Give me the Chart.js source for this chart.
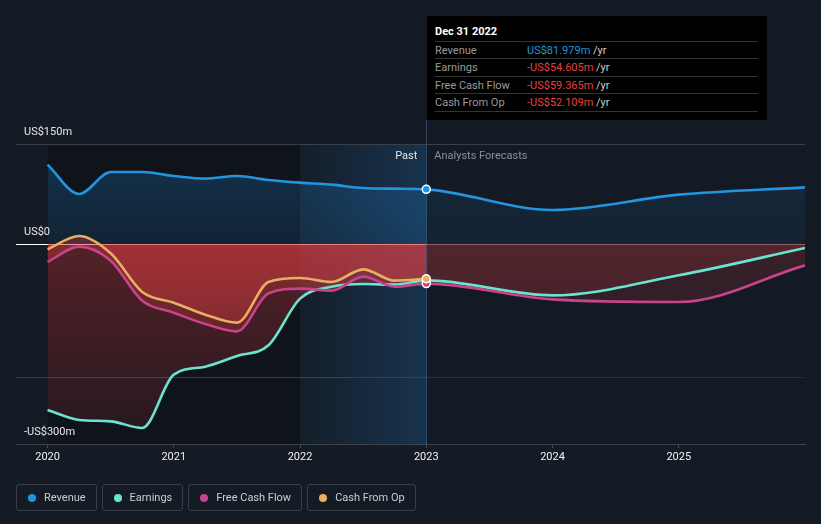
<!DOCTYPE html>
<html>
<head>
<meta charset="utf-8">
<script src="https://cdn.jsdelivr.net/npm/chart.js@4.4.1/dist/chart.umd.min.js"></script>
<style>
    html, body { margin: 0; padding: 0; background: #151b24; }
    #wrap { position: relative; width: 821px; height: 524px; font-family: Roboto, "Noto Sans", sans-serif; }
    #chart { position: absolute; left: 0; top: 0; }
    .tip { position: absolute; left: 427px; top: 16px; width: 340px; height: 104px; background: #000; font-size: 11px; }
    .tip .title { position: absolute; left: 8px; top: 9px; color: #fff; font-weight: bold; }
    .tip .row { position: absolute; left: 8px; right: 9px; height: 17px; line-height: 17px; border-top: 1px solid #333; color: #9a9a9a; }
    .tip .row.last { border-bottom: 1px solid #333; }
    .tip .val { position: absolute; left: 92px; top: 0; color: #ccc; }
    .legend { position: absolute; left: 16px; top: 484px; display: flex; gap: 5px; }
    .legend .item { box-sizing: border-box; height: 27px; border: 1px solid #3a3f48; border-radius: 3px; display: flex; align-items: center; padding: 0 10px 0 11px; color: #c9cdd3; font-size: 11px; }
    .legend .dot { width: 8px; height: 8px; border-radius: 50%; margin-right: 8px; }
</style>
</head>
<body>
<div id="wrap">
    <canvas id="chart" width="821" height="524"></canvas>
    <div class="tip">
        <div class="title">Dec 31 2022</div>
        <div class="row" style="top:25px">Revenue<span class="val"><span style="color:#2394df">US$81.979m</span> /yr</span></div>
        <div class="row" style="top:42px">Earnings<span class="val"><span style="color:#e8403f">-US$54.605m</span> /yr</span></div>
        <div class="row" style="top:60px">Free Cash Flow<span class="val"><span style="color:#e8403f">-US$59.365m</span> /yr</span></div>
        <div class="row last" style="top:77px">Cash From Op<span class="val"><span style="color:#e8403f">-US$52.109m</span> /yr</span></div>
    </div>
    <div class="legend">
        <div class="item"><span class="dot" style="background:#2394df"></span>Revenue</div>
        <div class="item"><span class="dot" style="background:#6ce3d0"></span>Earnings</div>
        <div class="item"><span class="dot" style="background:#c8438b"></span>Free Cash Flow</div>
        <div class="item"><span class="dot" style="background:#e9ae62"></span>Cash From Op</div>
    </div>
</div>
<script>
// quarterly history (trailing twelve months), then analyst forecasts per year
const pastYears = [2020, 2020.25, 2020.5, 2020.75, 2021, 2021.25, 2021.5, 2021.75, 2022, 2022.25, 2022.5, 2022.75, 2023];
const forecastYears = [2024, 2025, 2026];

// US$ millions
const revenuePast = [119, 75, 108, 108, 102, 98, 102, 96, 92, 89, 84, 83, 81.979];
const revenueForecast = [51, 74, 85];
const earningsPast = [-249, -264, -266, -276, -196, -184, -168, -152, -82, -64, -60, -61, -54.605];
const earningsForecast = [-77, -47, -6];
const fcfPast = [-27, -4, -25, -85, -103, -120, -131, -74, -67, -70, -49, -64, -59.365];
const fcfForecast = [-83, -87, -32];
const cfoPast = [-8, 12, -14, -72, -88, -106, -118, -57, -51, -57, -38, -55, -52.109];

const xTicks = [2020, 2021, 2022, 2023, 2024, 2025];
const yGrid = [150, 0, -200, -300];
const yLabels = [
    { value: 150, text: 'US$150m' },
    { value: 0, text: 'US$0' },
    { value: -300, text: '-US$300m' }
];

const pastStart = pastYears[0];
const highlightStart = 2022;
const pastEnd = pastYears[pastYears.length - 1];

function toPoints(xs, ys) {
    return xs.map((x, i) => ({ x: x, y: ys[i] }));
}

function dotAtLast(ctx) {
    return ctx.dataIndex === pastYears.length - 1 ? 4 : 0;
}

function redFill(ctx) {
    const chart = ctx.chart;
    const a = chart.chartArea;
    if (!a) return 'rgba(228,63,67,0.2)';
    const y0 = chart.scales.y.getPixelForValue(0);
    const g = chart.ctx.createLinearGradient(0, y0, 0, a.bottom);
    g.addColorStop(0, 'rgba(228,63,67,0.32)');
    g.addColorStop(1, 'rgba(228,63,67,0.1)');
    return g;
}

function blueFill(ctx) {
    const chart = ctx.chart;
    const a = chart.chartArea;
    if (!a) return 'rgba(33,150,243,0.18)';
    const y0 = chart.scales.y.getPixelForValue(0);
    const g = chart.ctx.createLinearGradient(0, a.top, 0, y0);
    g.addColorStop(0, 'rgba(33,150,243,0.24)');
    g.addColorStop(1, 'rgba(33,150,243,0.12)');
    return g;
}

const backdrop = {
    id: 'backdrop',
    beforeDraw(chart) {
        const { ctx, chartArea: a, scales: { x } } = chart;
        const x0 = x.getPixelForValue(pastStart);
        const x1 = x.getPixelForValue(highlightStart);
        const x2 = x.getPixelForValue(pastEnd);
        ctx.save();
        ctx.fillStyle = 'rgba(0,0,0,0.25)';
        ctx.fillRect(x0, a.top, x1 - x0, a.bottom - a.top);
        const g = ctx.createLinearGradient(x1, 0, x2, 0);
        g.addColorStop(0, 'rgba(33,150,243,0.03)');
        g.addColorStop(1, 'rgba(33,150,243,0.2)');
        ctx.fillStyle = g;
        ctx.fillRect(x1, a.top, x2 - x1, a.bottom - a.top);
        ctx.restore();
    },
    beforeDatasetsDraw(chart) {
        const { ctx, chartArea: a, scales: { x } } = chart;
        const x2 = x.getPixelForValue(pastEnd);
        ctx.save();
        // forecast side is drawn dimmer
        ctx.fillStyle = 'rgba(21,27,36,0.45)';
        ctx.fillRect(x2, a.top + 1, a.right - x2, a.bottom - a.top - 1);
        ctx.strokeStyle = 'rgba(70,110,150,0.55)';
        ctx.lineWidth = 1;
        ctx.beginPath();
        ctx.moveTo(Math.round(x2) + 0.5, 120);
        ctx.lineTo(Math.round(x2) + 0.5, a.bottom);
        ctx.stroke();
        ctx.restore();
    },
    afterDraw(chart) {
        const { ctx, scales: { x, y } } = chart;
        const x2 = x.getPixelForValue(pastEnd);
        ctx.save();
        ctx.font = '11px Roboto, sans-serif';
        ctx.textBaseline = 'middle';
        ctx.textAlign = 'right';
        ctx.fillStyle = '#e6e6e6';
        ctx.fillText('Past', x2 - 9, y.top + 12);
        ctx.textAlign = 'left';
        ctx.fillStyle = '#8c9099';
        ctx.fillText('Analysts Forecasts', x2 + 8, y.top + 12);
        ctx.fillStyle = '#e6e6e6';
        yLabels.forEach(l => {
            ctx.fillText(l.text, 24, y.getPixelForValue(l.value) - 12);
        });
        ctx.restore();
    }
};

new Chart(document.getElementById('chart'), {
    type: 'line',
    data: {
        datasets: [
            {
                label: 'Revenue',
                data: toPoints(pastYears.concat(forecastYears), revenuePast.concat(revenueForecast)),
                borderColor: '#2394df',
                backgroundColor: blueFill,
                fill: 'origin',
                order: 4,
                pointRadius: dotAtLast,
                pointBackgroundColor: '#2394df',
                pointBorderColor: '#fff'
            },
            {
                label: 'Earnings',
                data: toPoints(pastYears.concat(forecastYears), earningsPast.concat(earningsForecast)),
                borderColor: '#6ce3d0',
                backgroundColor: redFill,
                fill: 'origin',
                order: 3,
                pointRadius: 0
            },
            {
                label: 'Free Cash Flow',
                data: toPoints(pastYears.concat(forecastYears), fcfPast.concat(fcfForecast)),
                borderColor: '#c8438b',
                backgroundColor: redFill,
                fill: 'origin',
                order: 2,
                pointRadius: dotAtLast,
                pointBackgroundColor: '#c8438b',
                pointBorderColor: '#fff'
            },
            {
                label: 'Cash From Op',
                data: toPoints(pastYears, cfoPast),
                borderColor: '#e9ae62',
                backgroundColor: redFill,
                fill: 'origin',
                order: 1,
                pointRadius: dotAtLast,
                pointBackgroundColor: '#e9ae62',
                pointBorderColor: '#fff'
            }
        ]
    },
    options: {
        responsive: false,
        animation: false,
        layout: { padding: { left: 16, right: 16, top: 144, bottom: 56 } },
        elements: {
            line: { borderWidth: 2.6, cubicInterpolationMode: 'monotone' },
            point: { borderWidth: 1.5, hoverRadius: 0 }
        },
        scales: {
            x: {
                type: 'linear',
                min: 2019.75,
                max: 2026,
                afterBuildTicks: s => { s.ticks = xTicks.map(v => ({ value: v })); },
                afterFit: s => { s.height = 24; },
                grid: { drawOnChartArea: false, drawTicks: true, tickLength: 4, color: '#454a54' },
                border: { display: true, color: '#3d424b' },
                ticks: {
                    color: '#f0f0f0',
                    padding: 3,
                    maxRotation: 0,
                    font: { family: 'Roboto', size: 11 },
                    callback: v => String(v)
                }
            },
            y: {
                min: -300,
                max: 150,
                afterBuildTicks: s => { s.ticks = yGrid.map(v => ({ value: v })); },
                afterFit: s => { s.width = 0; },
                grid: {
                    drawTicks: false,
                    color: c => (c.tick && c.tick.value === 0) ? '#ffffff' : '#3b3f47'
                },
                border: { display: false },
                ticks: { display: false }
            }
        },
        plugins: {
            legend: { display: false },
            tooltip: { enabled: false },
            filler: { drawTime: 'beforeDatasetsDraw' }
        }
    },
    plugins: [backdrop]
});
</script>
</body>
</html>
